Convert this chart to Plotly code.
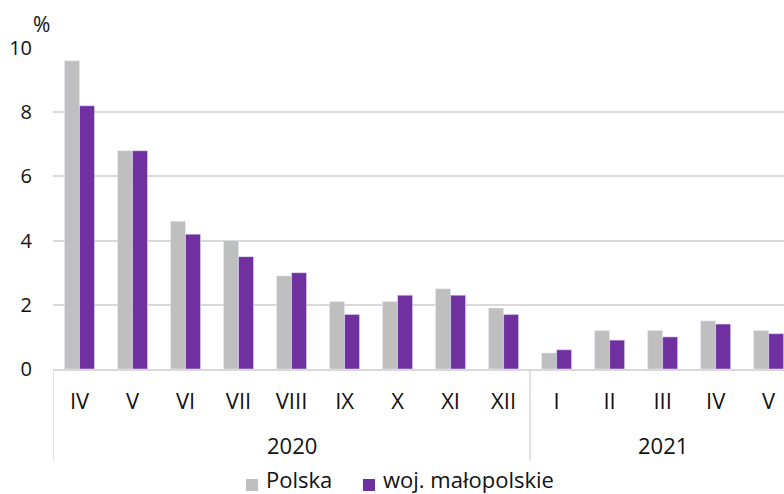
import plotly.graph_objects as go

years = ["2020", "2021"]
months = ["IV", "V", "VI", "VII", "VIII", "IX", "X", "XI", "XII",
          "I", "II", "III", "IV", "V"]
month_year = ["2020"] * 9 + ["2021"] * 5
polska = [9.6, 6.8, 4.6, 4.0, 2.9, 2.1, 2.1, 2.5, 1.9, 0.5, 1.2, 1.2, 1.5, 1.2]
malopolskie = [8.2, 6.8, 4.2, 3.5, 3.0, 1.7, 2.3, 2.3, 1.7, 0.6, 0.9, 1.0, 1.4, 1.1]

categories = [f"{m} {y}" for m, y in zip(months, month_year)]

FONT = "Open Sans, Noto Sans, sans-serif"
TEXT = "#111111"
GRID = "#D9D9D9"
COLORS = {"Polska": "#BFBFBF", "woj. małopolskie": "#7030A0"}

fig = go.Figure()
for name, vals in [("Polska", polska), ("woj. małopolskie", malopolskie)]:
    fig.add_trace(go.Bar(x=categories, y=vals, name=name,
                         marker_color=COLORS[name], showlegend=False))

fig.update_layout(
    width=784, height=494,
    barmode="group", bargap=0.434, bargroupgap=0,
    plot_bgcolor="white", paper_bgcolor="white",
    font=dict(family=FONT, size=22, color=TEXT),
    margin=dict(l=53, r=0, t=48, b=125, autoexpand=False),
    xaxis=dict(
        type="category", range=[-0.5, 13.29],
        tickvals=categories, ticktext=months,
        showline=True, linecolor=GRID, linewidth=1.5,
        showgrid=False, ticks="", ticklabelstandoff=12,
        tickfont=dict(size=22, color=TEXT),
    ),
    yaxis=dict(
        range=[0, 10], dtick=2,
        showgrid=True, gridcolor=GRID, gridwidth=1.5,
        zeroline=False, ticks="", ticklabelstandoff=20,
        tickfont=dict(size=20, color=TEXT),
    ),
)

# year labels under the month labels
for yr in years:
    idx = [i for i, y in enumerate(month_year) if y == yr]
    fig.add_annotation(text=yr, xref="x", yref="paper",
                       x=(idx[0] + idx[-1]) / 2, y=-0.238,
                       xanchor="center", yanchor="middle", showarrow=False,
                       font=dict(size=22, color=TEXT))

# group dividers
for b in [-0.5, 8.5]:
    fig.add_shape(type="line", xref="x", yref="paper", x0=b, x1=b,
                  y0=0, y1=-0.286, line=dict(color=GRID, width=1.5))

fig.add_annotation(text="%", xref="paper", yref="paper", x=-0.0164, y=1.075,
                   xanchor="center", yanchor="middle", showarrow=False,
                   font=dict(size=21, color=TEXT))

# legend drawn by hand so it can sit close to the bottom edge
legend_x = {"Polska": 0.264, "woj. małopolskie": 0.424}
for name, x0 in legend_x.items():
    fig.add_shape(type="rect", xref="paper", yref="paper",
                  x0=x0, x1=x0 + 0.0165, y0=-0.380, y1=-0.3427,
                  fillcolor=COLORS[name], line=dict(width=0))
    fig.add_annotation(text=name, xref="paper", yref="paper",
                       x=x0 + 0.025, y=-0.344, xanchor="left", yanchor="middle",
                       showarrow=False, font=dict(size=22, color=TEXT))

fig.write_html("out.html", config={"displayModeBar": False},
               post_script="document.body.style.margin='0';")
